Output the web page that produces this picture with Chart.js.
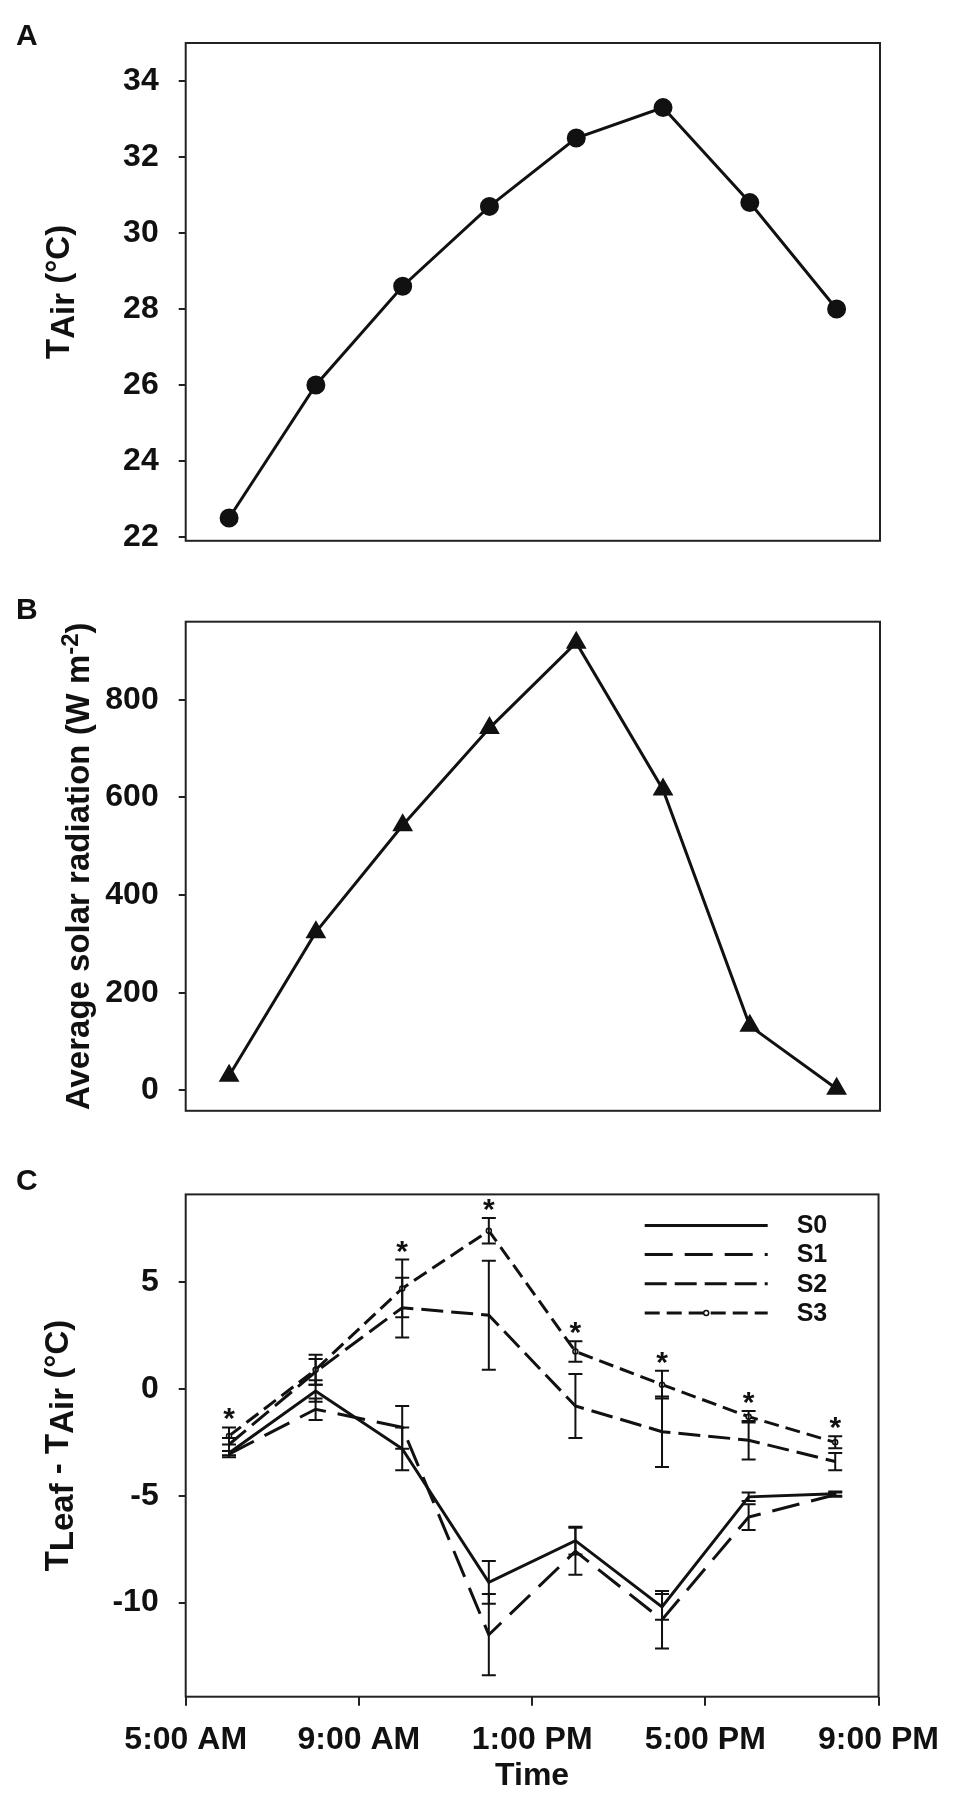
<!DOCTYPE html>
<html>
<head>
<meta charset="utf-8">
<script src="https://cdn.jsdelivr.net/npm/chart.js@4.4.0/dist/chart.umd.min.js"></script>
<style>
  body { margin: 0; background: #fff; }
  #wrap { position: relative; width: 954px; height: 1796px; }
  canvas { position: absolute; left: 0; }
</style>
</head>
<body>
<div id="wrap">
  <canvas id="chartA" width="954" height="580" style="top:0px"></canvas>
  <canvas id="chartB" width="954" height="570" style="top:580px"></canvas>
  <canvas id="chartC" width="954" height="646" style="top:1150px"></canvas>
</div>
<script>
// sampling times (hour of day)
const times = [6, 8, 10, 12, 14, 16, 18, 20];

// panel A: air temperature
const airTemp = [22.5, 26.0, 28.6, 30.7, 32.5, 33.3, 30.8, 28.0];
// panel B: average solar radiation
const solarRad = [30, 324, 543, 742, 917, 616, 132, 3];

// panel C: leaf - air temperature difference, mean and error
const seriesNames = ['S0', 'S1', 'S2', 'S3'];
const s0 = [-3.0, -0.1, -2.8, -9.05, -7.1, -10.2, -5.05, -4.9];
const s0Err = [0.1, 0.5, 1.0, 1.0, 0.65, 0.6, 0.2, 0.1];
const s1 = [-3.05, -0.95, -1.8, -11.5, -7.6, -10.8, -6.0, -4.95];
const s1Err = [0.15, 0.5, 1.0, 1.9, 1.1, 1.35, 0.6, 0.1];
const s2 = [-2.6, 0.8, 3.8, 3.45, -0.8, -2.0, -2.4, -3.4];
const s2Err = [0.3, 0.6, 1.4, 2.55, 1.5, 1.65, 0.9, 0.4];
const s3 = [-2.2, 0.9, 4.7, 7.4, 1.75, 0.2, -1.3, -2.5];
const s3Err = [0.4, 0.7, 1.35, 0.6, 0.48, 0.65, 0.27, 0.28];
const significant = [true, false, true, true, true, true, true, true];

// ticks
const tempTicks = [22, 24, 26, 28, 30, 32, 34];
const radTicks = [0, 200, 400, 600, 800];
const diffTicks = [-10, -5, 0, 5];
const hourTicks = [5, 9, 13, 17, 21];
const hourLabels = ['5:00 AM', '9:00 AM', '1:00 PM', '5:00 PM', '9:00 PM'];

const FONT = "'Liberation Sans', Arial, Helvetica, sans-serif";
const INK = '#111';

Chart.defaults.font.family = FONT;
Chart.defaults.color = INK;

function drawRotated(ctx, segs, baseX, centerY) {
  ctx.save();
  ctx.translate(baseX, centerY);
  ctx.rotate(-Math.PI / 2);
  ctx.textAlign = 'left';
  ctx.textBaseline = 'alphabetic';
  ctx.fillStyle = INK;
  let total = 0;
  segs.forEach(s => {
    ctx.font = `bold ${s.size}px ${FONT}`;
    total += ctx.measureText(s.text).width;
  });
  let x = -total / 2;
  segs.forEach(s => {
    ctx.font = `bold ${s.size}px ${FONT}`;
    ctx.fillText(s.text, x, s.shift);
    x += ctx.measureText(s.text).width;
  });
  ctx.restore();
}

// frame box, panel letter and y title
const decorPlugin = {
  id: 'decor',
  afterDraw(chart, args, opts) {
    const { ctx, chartArea: a } = chart;
    ctx.save();
    ctx.strokeStyle = '#222';
    ctx.lineWidth = 2;
    ctx.strokeRect(a.left, a.top, a.right - a.left, a.bottom - a.top);
    ctx.fillStyle = INK;
    ctx.font = `bold 30px ${FONT}`;
    ctx.textAlign = 'left';
    ctx.textBaseline = 'alphabetic';
    ctx.fillText(opts.letter, 16, a.top + opts.letterDy);
    ctx.restore();
    drawRotated(ctx, opts.title, opts.titleX, (a.top + a.bottom) / 2);
  }
};

// error bars, significance stars and legend for panel C
const errorPlugin = {
  id: 'errs',
  afterDatasetsDraw(chart) {
    const { ctx, chartArea: a } = chart;
    const xs = chart.scales.x, ys = chart.scales.y;
    const errs = [s0Err, s1Err, s2Err, s3Err];
    ctx.save();
    ctx.strokeStyle = INK;
    ctx.lineWidth = 2;
    chart.data.datasets.forEach((ds, di) => {
      ds.data.forEach((p, i) => {
        const x = xs.getPixelForValue(p.x);
        const yTop = ys.getPixelForValue(p.y + errs[di][i]);
        const yBot = ys.getPixelForValue(p.y - errs[di][i]);
        ctx.beginPath();
        ctx.moveTo(x, yTop); ctx.lineTo(x, yBot);
        ctx.moveTo(x - 7, yTop); ctx.lineTo(x + 7, yTop);
        ctx.moveTo(x - 7, yBot); ctx.lineTo(x + 7, yBot);
        ctx.stroke();
      });
    });

    // stars above the top S3 error cap
    ctx.fillStyle = INK;
    ctx.font = `bold 30px ${FONT}`;
    ctx.textAlign = 'center';
    ctx.textBaseline = 'alphabetic';
    const m = ctx.measureText('*');
    const half = (m.actualBoundingBoxAscent - m.actualBoundingBoxDescent) / 2;
    times.forEach((t, i) => {
      if (!significant[i]) return;
      const x = xs.getPixelForValue(t);
      const cy = ys.getPixelForValue(s3[i] + s3Err[i]) - 13;
      ctx.fillText('*', x, cy + half);
    });

    // legend
    const x0 = a.left + 459, x1 = a.left + 582;
    ctx.font = `bold 25px ${FONT}`;
    ctx.textAlign = 'left';
    ctx.textBaseline = 'middle';
    chart.data.datasets.forEach((ds, di) => {
      const y = a.top + 31 + di * 29.2;
      ctx.save();
      ctx.strokeStyle = ds.borderColor;
      ctx.lineWidth = ds.borderWidth;
      ctx.setLineDash(ds.borderDash || []);
      ctx.beginPath();
      ctx.moveTo(x0, y); ctx.lineTo(x1, y);
      ctx.stroke();
      ctx.restore();
      if (ds.pointRadius > 0) {
        ctx.save();
        ctx.fillStyle = ds.pointBackgroundColor;
        ctx.strokeStyle = ds.pointBorderColor;
        ctx.lineWidth = ds.pointBorderWidth;
        ctx.beginPath();
        ctx.arc((x0 + x1) / 2, y, ds.pointRadius, 0, Math.PI * 2);
        ctx.fill(); ctx.stroke();
        ctx.restore();
      }
      ctx.fillStyle = INK;
      ctx.fillText(ds.label, x1 + 29, y + 1);
    });
    ctx.restore();
  }
};

function yAxis(min, max, tickList) {
  return {
    type: 'linear',
    min: min,
    max: max,
    afterBuildTicks: axis => { axis.ticks = tickList.map(v => ({ value: v })); },
    afterFit: axis => { axis.width = 185.7; },
    border: { display: false },
    grid: { drawOnChartArea: false, drawTicks: true, tickLength: 7, color: '#222', lineWidth: 2 },
    ticks: { autoSkip: false, padding: 20, color: INK, font: { size: 32, weight: 'bold' } }
  };
}

function xAxis(show) {
  return {
    type: 'linear',
    min: 5,
    max: 21,
    display: show,
    afterBuildTicks: axis => { axis.ticks = hourTicks.map(v => ({ value: v })); },
    afterFit: axis => { axis.height = show ? 99.3 : 0; },
    border: { display: false },
    grid: { drawOnChartArea: false, drawTicks: true, tickLength: 9, color: '#222', lineWidth: 2 },
    ticks: {
      autoSkip: false, maxRotation: 0, padding: 15, color: INK,
      font: { size: 32, weight: 'bold' },
      callback: v => hourLabels[hourTicks.indexOf(v)]
    },
    title: { display: show, text: 'Time', color: INK, padding: { top: 0, bottom: 1 }, font: { size: 32, weight: 'bold' } }
  };
}

function baseOptions(pad, yScale, showX, decor) {
  return {
    responsive: false,
    animation: false,
    devicePixelRatio: 1,
    layout: { padding: pad },
    scales: { x: xAxis(showX), y: yScale },
    plugins: { legend: { display: false }, tooltip: { enabled: false }, decor: decor }
  };
}

const pts = vals => times.map((t, i) => ({ x: t, y: vals[i] }));

new Chart(document.getElementById('chartA'), {
  type: 'line',
  data: {
    datasets: [{
      data: pts(airTemp), borderColor: INK, borderWidth: 3, tension: 0,
      pointRadius: 8, pointBackgroundColor: INK, pointBorderColor: INK
    }]
  },
  options: baseOptions({ top: 43, bottom: 33.3, left: 0, right: 74 }, yAxis(21.9, 35, tempTicks), false, {
    letter: 'A', letterDy: 2, titleX: 69,
    title: [{ text: 'T', size: 33, shift: 0 }, { text: 'Air', size: 33, shift: 5 }, { text: ' (°C)', size: 33, shift: 0 }]
  }),
  plugins: [decorPlugin]
});

new Chart(document.getElementById('chartB'), {
  type: 'line',
  data: {
    datasets: [{
      data: pts(solarRad), borderColor: INK, borderWidth: 3, tension: 0,
      pointStyle: 'triangle', pointRadius: 9, pointBackgroundColor: INK, pointBorderColor: INK
    }]
  },
  options: baseOptions({ top: 41.7, bottom: 26, left: 0, right: 74 }, yAxis(-42, 960, radTicks), false, {
    letter: 'B', letterDy: -3, titleX: 89,
    title: [{ text: 'Average solar radiation (W m', size: 33, shift: 0 }, { text: '-2', size: 24, shift: -11 }, { text: ')', size: 33, shift: 0 }]
  }),
  plugins: [decorPlugin]
});

const lineStyle = (dash, radius) => ({
  borderColor: INK, borderWidth: 3, tension: 0, borderDash: dash,
  pointRadius: radius, pointBackgroundColor: '#fff', pointBorderColor: INK, pointBorderWidth: 1.5
});

new Chart(document.getElementById('chartC'), {
  type: 'line',
  data: {
    datasets: [
      Object.assign({ label: seriesNames[0], data: pts(s0) }, lineStyle([], 0)),
      Object.assign({ label: seriesNames[1], data: pts(s1) }, lineStyle([28, 12], 0)),
      Object.assign({ label: seriesNames[2], data: pts(s2) }, lineStyle([22, 8], 0)),
      Object.assign({ label: seriesNames[3], data: pts(s3) }, lineStyle([15, 7], 2.5))
    ]
  },
  options: baseOptions({ top: 44.4, bottom: 0, left: 0, right: 74 }, yAxis(-14.4, 9.1, diffTicks), true, {
    letter: 'C', letterDy: -4, titleX: 68,
    title: [{ text: 'T', size: 33, shift: 0 }, { text: 'Leaf', size: 33, shift: 5 }, { text: ' - T', size: 33, shift: 0 },
            { text: 'Air', size: 33, shift: 5 }, { text: ' (°C)', size: 33, shift: 0 }]
  }),
  plugins: [decorPlugin, errorPlugin]
});
</script>
</body>
</html>
